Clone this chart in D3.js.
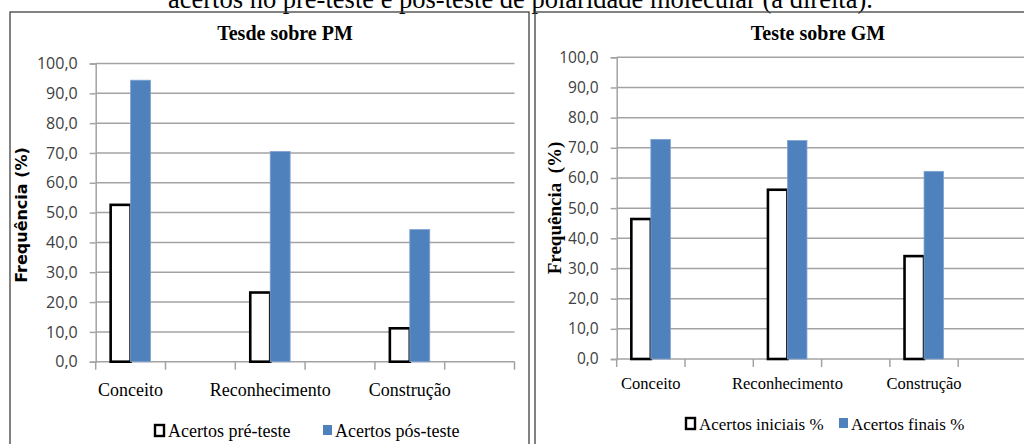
<!DOCTYPE html>
<html>
<head>
<meta charset="utf-8">
<script src="https://cdn.jsdelivr.net/npm/d3@7"></script>
<style>
  html, body { margin: 0; padding: 0; background: #fff; }
  svg { display: block; }
</style>
</head>
<body>
<svg id="chart" width="1024" height="444"></svg>
<script>
// ---------- data ----------
const caption = "acertos no pré-teste e pós-teste de polaridade molecular (à direita).";
const categories = ["Conceito", "", "Reconhecimento", "", "Construção", ""];
const yTicks = [0, 10, 20, 30, 40, 50, 60, 70, 80, 90, 100];

const pmTitle = "Tesde sobre PM";
const pmSeries = ["Acertos pré-teste", "Acertos pós-teste"];
const pmPre  = [52.6, null, 23.2, null, 11.2, null];
const pmPost = [94.4, null, 70.5, null, 44.3, null];

const gmTitle = "Teste sobre GM";
const gmSeries = ["Acertos iniciais %", "Acertos finais %"];
const gmPre  = [46.4, null, 56.1, null, 34.1, null];
const gmPost = [72.8, null, 72.4, null, 62.2, null];

// ---------- drawing ----------
const svg = d3.select("#chart");
const BLUE = "#4f81bd";
const GRID = "#a3a3a3";
const fmt = v => d3.format(".1f")(v).replace(".", ",");

// top caption (clipped by page top, as in the reference)
svg.append("text")
  .attr("x", 168).attr("y", 8)
  .attr("font-family", "Liberation Serif, Times New Roman, serif")
  .attr("font-size", 26.5)
  .attr("fill", "#000")
  .text(caption);

function drawChart(c) {
  const g = svg.append("g");
  // frame
  g.append("rect")
    .attr("x", c.frame[0]).attr("y", c.frame[1])
    .attr("width", c.frame[2]).attr("height", c.frame[3])
    .attr("fill", "none").attr("stroke", "#404040").attr("stroke-width", 1.3);

  const y = d3.scaleLinear().domain([0, 100]).range([c.yBottom, c.yTop]);
  const x = d3.scaleBand().domain(d3.range(categories.length))
    .range([c.xLeft, c.xRight]).paddingInner(0).paddingOuter(0);
  const xs = d3.scaleBand().domain(c.series).range([0, x.bandwidth()])
    .paddingInner(0).paddingOuter(0.75);

  // grid lines
  g.append("g").selectAll("line").data(yTicks.filter(d => d > 0)).join("line")
    .attr("x1", c.xLeft).attr("x2", c.xRight)
    .attr("y1", d => y(d)).attr("y2", d => y(d))
    .attr("stroke", GRID).attr("stroke-width", 1.5);

  // y axis
  const ya = g.append("g").attr("transform", `translate(${c.xLeft},0)`)
    .call(d3.axisLeft(y).tickValues(yTicks).tickFormat(fmt).tickSize(6).tickPadding(12));
  ya.select(".domain").attr("stroke", GRID).attr("stroke-width", 1.5);
  ya.selectAll(".tick line").attr("stroke", GRID).attr("stroke-width", 1.5);
  ya.selectAll(".tick text")
    .attr("font-family", "Open Sans, Noto Sans, sans-serif")
    .attr("font-size", c.tickFont).attr("fill", "#404040");

  // x axis line + slot boundary ticks
  g.append("line")
    .attr("x1", c.xLeft).attr("x2", c.xRight)
    .attr("y1", y(0)).attr("y2", y(0))
    .attr("stroke", GRID).attr("stroke-width", 1.5);
  const bounds = d3.range(categories.length).map(i => x(i)).concat([x(categories.length - 1) + x.bandwidth()]);
  g.append("g").selectAll("line").data(bounds).join("line")
    .attr("x1", d => d).attr("x2", d => d)
    .attr("y1", y(0)).attr("y2", y(0) + 8)
    .attr("stroke", GRID).attr("stroke-width", 1.5);

  // category labels
  g.append("g").selectAll("text").data(categories.map((d, i) => ({d, i})).filter(o => o.d !== "")).join("text")
    .attr("x", o => x(o.i) + x.bandwidth() / 2)
    .attr("y", c.catY)
    .attr("text-anchor", "middle")
    .attr("font-family", "Liberation Serif, Times New Roman, serif")
    .attr("font-size", c.catFont).attr("fill", "#000")
    .text(o => o.d);

  // bars
  const rows = [];
  categories.forEach((cat, i) => {
    if (c.pre[i] != null) rows.push({i, s: c.series[0], v: c.pre[i]});
    if (c.post[i] != null) rows.push({i, s: c.series[1], v: c.post[i]});
  });
  g.append("g").selectAll("rect").data(rows).join("rect")
    .attr("x", d => x(d.i) + xs(d.s))
    .attr("width", xs.bandwidth())
    .attr("y", d => y(d.v))
    .attr("height", d => y(0) - y(d.v))
    .attr("fill", d => d.s === c.series[0] ? "#fff" : BLUE)
    .attr("stroke", d => d.s === c.series[0] ? "#000" : "#7fa3d0")
    .attr("stroke-width", d => d.s === c.series[0] ? 2.6 : 0.8);

  // title
  g.append("text")
    .attr("x", c.titleX).attr("y", 40)
    .attr("text-anchor", "middle")
    .attr("font-family", "Liberation Serif, Times New Roman, serif")
    .attr("font-weight", "bold").attr("font-size", 20).attr("fill", "#000")
    .text(c.title);

  // y label
  g.append("text")
    .attr("transform", `translate(${c.ylabX},${c.ylabY}) rotate(-90)`)
    .attr("text-anchor", "middle")
    .attr("font-family", c.ylabFamily)
    .attr("font-weight", "bold").attr("font-size", c.ylabFont).attr("fill", "#000")
    .attr("xml:space", "preserve")
    .style("white-space", "pre")
    .text(c.ylab);

  // legend
  const lg = g.append("g");
  const L = c.legend;
  lg.append("rect").attr("x", L.x0).attr("y", L.y - 12).attr("width", 9).attr("height", 11)
    .attr("fill", "#fff").attr("stroke", "#000").attr("stroke-width", 2.4);
  lg.append("text").attr("x", L.x0 + 13).attr("y", L.y)
    .attr("font-family", "Liberation Serif, Times New Roman, serif")
    .attr("font-size", L.font).attr("fill", "#000").text(c.series[0]);
  lg.append("rect").attr("x", L.x1).attr("y", L.y - 12).attr("width", 9).attr("height", 10)
    .attr("fill", BLUE);
  lg.append("text").attr("x", L.x1 + 12).attr("y", L.y)
    .attr("font-family", "Liberation Serif, Times New Roman, serif")
    .attr("font-size", L.font).attr("fill", "#000").text(c.series[1]);
}

drawChart({
  frame: [10, 12, 519, 450],
  xLeft: 95.7, xRight: 514.5, yTop: 63.5, yBottom: 361.7,
  series: pmSeries, pre: pmPre, post: pmPost,
  tickFont: 16, catFont: 18, catY: 396,
  title: pmTitle, titleX: 285,
  ylab: "Frequência (%)", ylabX: 27, ylabY: 215, ylabFont: 16,
  ylabFamily: "DejaVu Sans, Verdana, sans-serif",
  legend: {x0: 155, x1: 323, y: 437, font: 18}
});

drawChart({
  frame: [535, 12, 520, 450],
  xLeft: 616.7, xRight: 1026.5, yTop: 57.3, yBottom: 359,
  series: gmSeries, pre: gmPre, post: gmPost,
  tickFont: 15.5, catFont: 16.5, catY: 389,
  title: gmTitle, titleX: 818,
  ylab: "Frequência  (%)", ylabX: 561, ylabY: 208, ylabFont: 19,
  ylabFamily: "Liberation Serif, Times New Roman, serif",
  legend: {x0: 686, x1: 839, y: 430, font: 17}
});
</script>
</body>
</html>
